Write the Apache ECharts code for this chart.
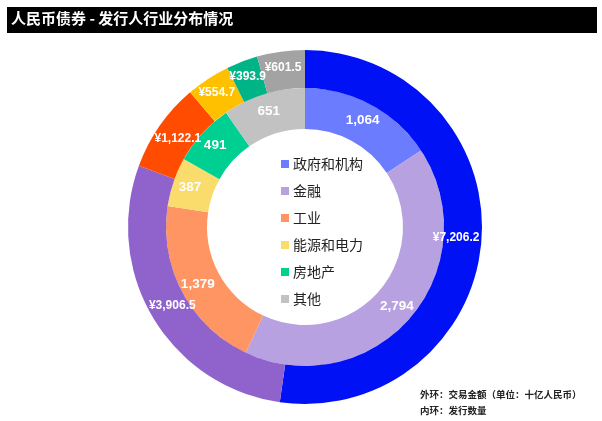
<!DOCTYPE html>
<html><head><meta charset="utf-8">
<script src="https://cdn.jsdelivr.net/npm/echarts@6/dist/echarts.min.js"></script>
<style>html,body{margin:0;padding:0;background:#fff}#c{width:602px;height:421px}</style>
</head><body><div id="c"></div>
<script>
const categories = ['政府和机构','金融','工业','能源和电力','房地产','其他'];
const innerValues = [1064, 2794, 1379, 387, 491, 651];
const outerValues = [7206.2, 3906.5, 1122.1, 554.7, 393.9, 601.5];
const innerColors = ['#6b7cfe','#b8a1e0','#ff9563','#f9dc6b','#00cf92','#c2c2c2'];
const outerColors = ['#0012f5','#8f63cb','#ff4c00','#ffc000','#00b487','#a3a3a3'];
const titleText = '人民币债券 - 发行人行业分布情况';
const noteLines = ['外环：交易金额（单位：十亿人民币）','内环：发行数量'];

const CENTER = [305, 227];
const R_OUT = 177;

const fmtInt = v => v.toLocaleString('en-US');
const fmtMoney = v => '¥' + v.toLocaleString('en-US',{minimumFractionDigits:1,maximumFractionDigits:1});

// pull a label radially inward until its side/top/bottom midpoints fit inside the outer circle
function fitInside(params){
  const r = params.labelRect;
  let cx = r.x + r.width/2, cy = r.y + r.height/2;
  const dx = cx - CENTER[0], dy = cy - CENTER[1];
  const d = Math.sqrt(dx*dx+dy*dy);
  const ux = dx/d, uy = dy/d;
  const lim = R_OUT - 2;
  const pts = [[-r.width/2,0],[r.width/2,0],[0,-r.height/2],[0,r.height/2]];
  const fits = (x,y) => pts.every(([ox,oy])=>{
    const px = x + ox - CENTER[0], py = y + oy - CENTER[1];
    return px*px+py*py <= lim*lim;
  });
  let k = 0;
  while (!fits(cx - ux*k, cy - uy*k) && k < 25) k += 0.5;
  return {x: cx - ux*k, y: cy - uy*k, align:'center', verticalAlign:'middle', hideOverlap:false};
}

const chart = echarts.init(document.getElementById('c'));
chart.setOption({
  animation:false,
  graphic:[
    {type:'rect',shape:{x:7,y:7,width:590,height:26},style:{fill:'#000'}},
    {type:'text',left:11,top:11,style:{text:titleText,fill:'#fff',font:'bold 15px "Noto Sans CJK SC", sans-serif'}},
    {type:'text',left:420,top:390,style:{text:noteLines[0],fill:'#222',font:'bold 9.5px "Noto Sans CJK SC", sans-serif'}},
    {type:'text',left:420,top:406,style:{text:noteLines[1],fill:'#222',font:'bold 9.5px "Noto Sans CJK SC", sans-serif'}}
  ],
  legend:{
    orient:'vertical', left:276, top:151,
    itemWidth:8, itemHeight:8, itemGap:11,
    icon:'rect',
    data:categories,
    textStyle:{fontSize:14,lineHeight:16,color:'#222',fontFamily:'"Noto Sans CJK SC", sans-serif',padding:[0,0,0,-1]}
  },
  series:[
    {
      type:'pie', center:CENTER, radius:[98,139], startAngle:90, clockwise:true,
      label:{position:'inside',color:'#fff',fontWeight:'bold',fontSize:13.5,overflow:'none',fontFamily:'Arial, "Liberation Sans", sans-serif',
        formatter:p=>fmtInt(p.value)},
      labelLayout:{hideOverlap:false},
      labelLine:{show:false}, emphasis:{disabled:true},
      data:categories.map((n,i)=>({name:n,value:innerValues[i],itemStyle:{color:innerColors[i]}}))
    },
    {
      type:'pie', center:CENTER, radius:[139,R_OUT], startAngle:90, clockwise:true,
      label:{position:'inside',color:'#fff',fontWeight:'bold',fontSize:12,overflow:'none',fontFamily:'Arial, "Liberation Sans", sans-serif',
        formatter:p=>fmtMoney(p.value)},
      labelLayout:fitInside,
      labelLine:{show:false}, emphasis:{disabled:true},
      data:categories.map((n,i)=>({name:n,value:outerValues[i],itemStyle:{color:outerColors[i]}}))
    }
  ]
});
</script></body></html>
